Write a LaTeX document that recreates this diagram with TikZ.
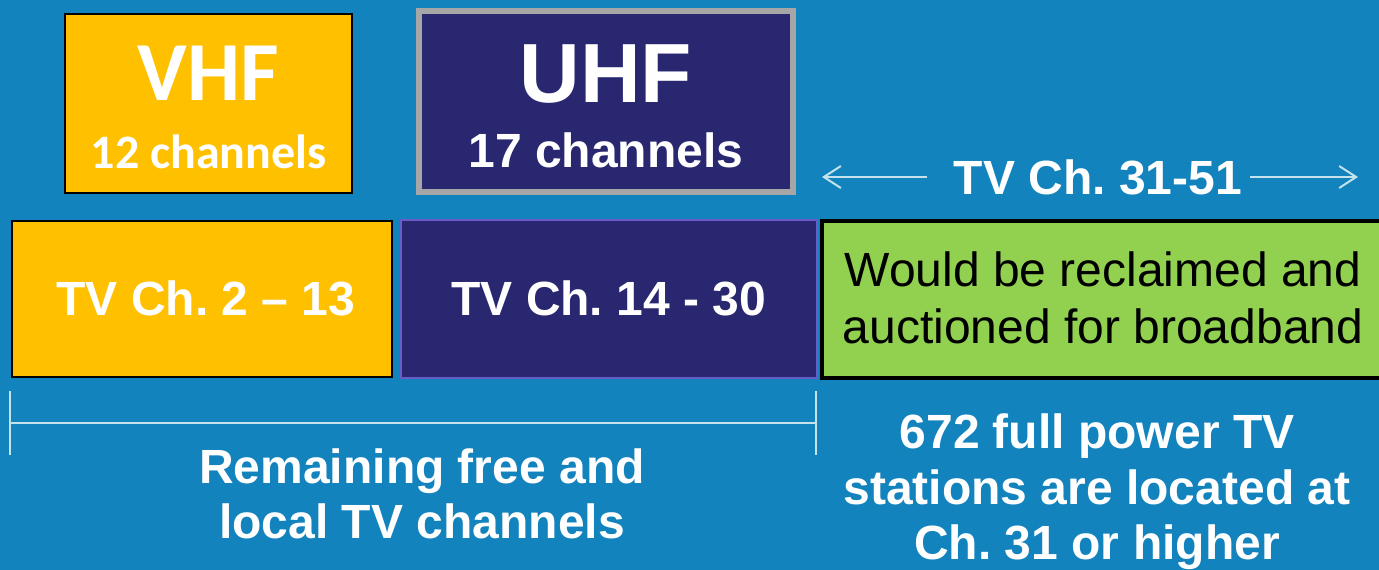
\documentclass[tikz,border=0pt]{standalone}
\usepackage{fontspec}
\setmainfont{Liberation Sans}
\newfontfamily\calibfont{Carlito}
\usetikzlibrary{arrows.meta}
\frenchspacing

\definecolor{bgblue}{HTML}{1383BE}
\definecolor{vhfgold}{HTML}{FFC000}
\definecolor{uhfnavy}{HTML}{29276F}
\definecolor{auctgreen}{HTML}{92D050}
\definecolor{frame}{HTML}{A6A6A6}
\definecolor{edgeviolet}{HTML}{6A5CC8}
\definecolor{rule}{HTML}{C4E2EC}

\begin{document}
\begin{tikzpicture}[x=1pt,y=-1pt,
  band/.style={rectangle, draw, inner sep=0pt, anchor=north west},
  bigtxt/.style={text=white, inner sep=0pt, anchor=base, font=\bfseries\fontsize{84}{84}\selectfont},
  midtxt/.style={text=white, inner sep=0pt, anchor=base, font=\bfseries\fontsize{48}{56}\selectfont},
  note/.style={text=white, inner sep=0pt, align=center, font=\bfseries\fontsize{48}{55.5}\selectfont},
  guide/.style={draw=rule, line width=2pt},
  span/.style={guide, -{Straight Barb[length=17pt,width=22pt,line width=2pt]}}
]
% page and background
\fill[bgblue] (0,0) rectangle (1379,570);
\useasboundingbox (0,0) rectangle (1379,570);
\clip (0,0) rectangle (1379,570);

% upper labels for the two bands
\node[band, fill=vhfgold, draw=black, line width=2pt,
      minimum width=287pt, minimum height=179pt] (vhf) at (64,13) {};
\node[band, fill=uhfnavy, draw=frame, line width=5.5pt,
      minimum width=374pt, minimum height=181pt] (uhf) at (416,8) {};

\node[bigtxt, font=\calibfont\bfseries\fontsize{84}{84}\selectfont] (vhfT) at (vhf.center |- 0,100) {VHF};
\node[midtxt, font=\calibfont\bfseries\fontsize{48}{56}\selectfont] (vhfN) at (vhf.center |- 0,168) {12 channels};
\node[bigtxt] (uhfT) at (uhf.center |- 0,102) {UHF};
\node[midtxt] (uhfN) at (uhf.center |- 0,167) {17 channels};

% channel bands
\node[band, fill=vhfgold, draw=black, line width=2pt,
      minimum width=380pt, minimum height=156pt] (ch2) at (11,220) {};
\node[midtxt, anchor=center] (ch2T) at (206,298) {TV Ch. 2 -- 13};
\node[band, fill=uhfnavy, draw=edgeviolet, line width=1.5pt,
      minimum width=416pt, minimum height=158pt,
      text=white, font=\bfseries\fontsize{48}{56}\selectfont] (ch14) at (400,219) {TV Ch. 14 - 30};
\node[band, fill=auctgreen, draw=black, line width=4pt,
      minimum width=580pt, minimum height=157pt] (ch31) at (820,219) {};
\node[inner sep=0pt, align=center, text=black, font=\fontsize{48}{57}\selectfont]
      (ch31T) at (1103,298) {Would be reclaimed and\\auctioned for broadband};

% range marker above the reclaimed band
\node[midtxt, anchor=center] (rng) at (1098,177) {TV Ch. 31-51};
\coordinate (rngL) at (822,177);
\coordinate (rngR) at (1358,177);
\draw[span, shorten <=27pt] (rng.west) -- (rngL);
\draw[span, shorten <=8pt] (rng.east) -- (rngR);

% bracket under the remaining channels
\coordinate (brL1) at (10,391);
\coordinate (brL2) at (10,455);
\coordinate (brR1) at (816,391);
\coordinate (brR2) at (816,455);
\coordinate (brLm) at (10,423);
\coordinate (brRm) at (816,423);
\draw[guide] (brL1) -- (brL2);
\draw[guide] (brR1) -- (brR2);
\draw[guide] (brLm) -- (brRm);

% captions
\node[note] (keep) at (422,494) {Remaining free and\\local TV channels};
\node[note] (count) at (1097,492) {672 full power TV\\stations are located at\\Ch. 31 or higher};
\end{tikzpicture}
\end{document}
